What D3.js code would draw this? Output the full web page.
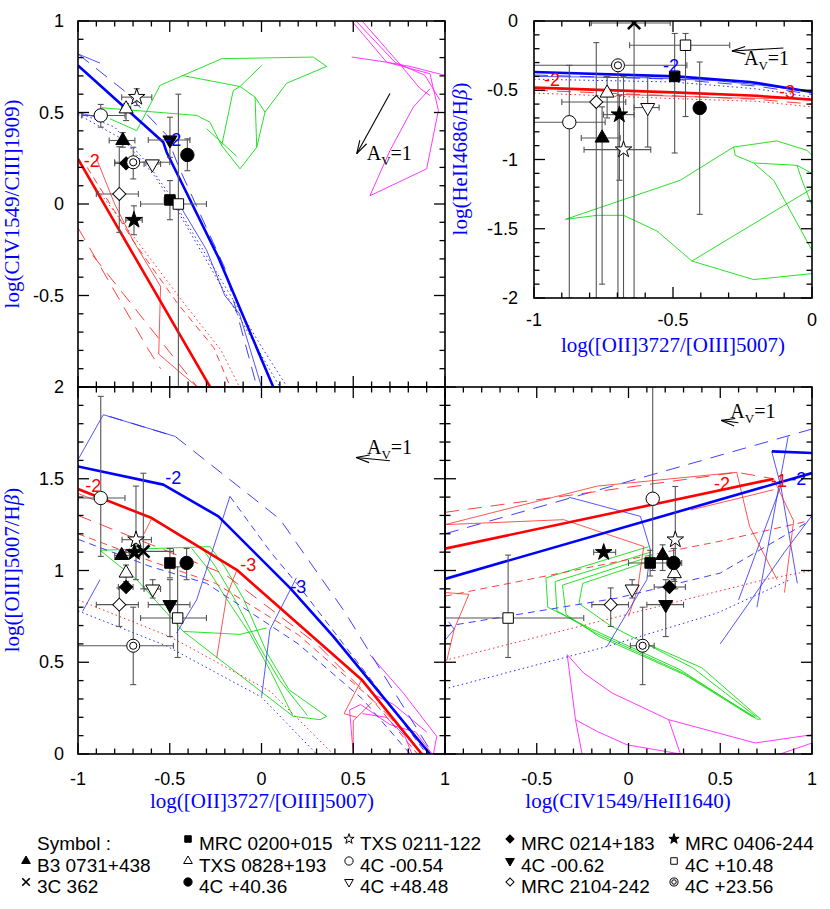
<!DOCTYPE html>
<html>
<head>
<meta charset="utf-8">
<script src="https://cdn.jsdelivr.net/npm/d3@7"></script>
<style>
body { margin: 0; background: #fff; }
</style>
</head>
<body>
<svg id="chart"></svg>
<script>
var width = 830
var height = 909

// sources, in legend order, with their plot symbol
var sources = ["B3 0731+438", "3C 362", "MRC 0200+015", "TXS 0828+193", "4C +40.36",
  "TXS 0211-122", "4C -00.54", "4C +48.48", "MRC 0214+183", "4C -00.62",
  "MRC 2104-242", "MRC 0406-244", "4C +10.48", "4C +23.56"]
var symbols = ["tri", "cross", "sq", "triO", "circ",
  "starO", "circO", "dtriO", "dia", "dtri",
  "diaO", "star", "sqO", "dcirc"]

// points: [source, x, y, xlo, xhi, ylo, yhi]
// top left: log(CIV/CIII]) vs log([OII]/[OIII])
var pointsTL = [
  ["B3 0731+438", -0.756, 0.347, -0.83, -0.69, 0.31, 0.39],
  ["MRC 0200+015", -0.499, 0.022, -0.53, -0.47, -0.086, 0.128],
  ["TXS 0828+193", -0.738, 0.52, -0.762, -0.713, 0.456, 0.548],
  ["4C +40.36", -0.404, 0.268, null, null, 0.182, 0.356],
  ["TXS 0211-122", -0.68, 0.584, -0.762, -0.598, 0.538, 0.63],
  ["4C -00.54", -0.876, 0.484, -0.98, -0.744, 0.42, 0.544],
  ["4C +48.48", -0.595, 0.219, -0.64, -0.55, null, null],
  ["MRC 0214+183", -0.738, 0.222, -0.8, -0.7, null, null],
  ["4C -00.62", -0.499, 0.35, -0.617, -0.39, 0.255, 0.474],
  ["MRC 2104-242", -0.775, 0.055, -0.9, -0.671, -0.155, 0.313],
  ["MRC 0406-244", -0.695, -0.088, -0.74, -0.65, -0.168, -0.01],
  ["4C +10.48", -0.453, 0.0, -0.659, -0.3, -1.0, 0.6],
  ["4C +23.56", -0.699, 0.228, -0.8, -0.5, 0.137, 0.31]
]
// top right: log(HeII4686/Hb) vs log([OII]/[OIII])
var pointsTR = [
  ["B3 0731+438", -0.755, -0.845, -0.83, -0.69, -1.9, -0.62],
  ["3C 362", -0.64, -0.014, -0.794, -0.51, -2.0, 0.0],
  ["MRC 0200+015", -0.494, -0.40, null, null, -0.953, -0.09],
  ["TXS 0828+193", -0.737, -0.52, null, null, -0.7, -0.4],
  ["4C +40.36", -0.404, -0.628, null, null, -1.396, -0.296],
  ["TXS 0211-122", -0.678, -0.929, -0.82, -0.58, -2.0, -0.4],
  ["4C -00.54", -0.873, -0.731, -1.0, -0.744, -2.0, -0.32],
  ["4C +48.48", -0.591, -0.625, -0.64, -0.55, -0.91, -0.404],
  ["MRC 2104-242", -0.776, -0.585, -0.9, -0.67, -2.0, -0.156],
  ["MRC 0406-244", -0.693, -0.676, -0.75, -0.64, -1.15, -0.536],
  ["4C +10.48", -0.455, -0.175, -0.656, -0.296, -0.69, -0.09],
  ["4C +23.56", -0.698, -0.32, -1.0, -0.45, -2.0, -0.32]
]
// bottom left: log([OIII]/Hb) vs log([OII]/[OIII])
var pointsBL = [
  ["B3 0731+438", -0.762, 1.082, -0.8, -0.72, null, null],
  ["3C 362", -0.644, 1.104, -0.72, -0.48, 0.9, 1.53],
  ["MRC 0200+015", -0.499, 1.041, null, null, 0.96, 1.12],
  ["TXS 0828+193", -0.738, 0.986, null, null, 0.94, 1.03],
  ["4C +40.36", -0.408, 1.041, null, null, 0.95, 1.12],
  ["TXS 0211-122", -0.684, 1.168, -0.76, -0.6, 0.95, 1.46],
  ["4C -00.54", -0.876, 1.395, -1.0, -0.744, 1.077, 1.949],
  ["4C +48.48", -0.593, 0.899, -0.64, -0.55, 0.85, 0.95],
  ["MRC 0214+183", -0.738, 0.91, -0.78, -0.7, null, null],
  ["4C -00.62", -0.499, 0.814, -0.617, -0.39, 0.64, 0.95],
  ["MRC 2104-242", -0.775, 0.814, -0.9, -0.671, 0.695, 0.905],
  ["MRC 0406-244", -0.693, 1.099, -0.74, -0.65, null, null],
  ["4C +10.48", -0.457, 0.741, -0.659, -0.3, 0.526, 1.02],
  ["4C +23.56", -0.699, 0.59, -1.0, -0.48, 0.378, 0.8]
]
// bottom right: log([OIII]/Hb) vs log(CIV/HeII1640)
var pointsBR = [
  ["B3 0731+438", 0.186, 1.082, null, null, 1.0, 1.14],
  ["MRC 0200+015", 0.118, 1.041, 0.0, 0.25, 0.97, 1.11],
  ["TXS 0828+193", 0.25, 0.983, null, null, 0.94, 1.03],
  ["4C +40.36", 0.246, 1.041, 0.21, 0.29, 0.95, 1.12],
  ["TXS 0211-122", 0.255, 1.168, null, null, 0.9, 1.458],
  ["4C -00.54", 0.132, 1.391, null, null, 1.0, 2.0],
  ["4C +48.48", 0.02, 0.899, null, null, 0.85, 0.95],
  ["MRC 0214+183", 0.223, 0.91, 0.14, 0.31, null, null],
  ["4C -00.62", 0.203, 0.814, 0.1, 0.3, 0.64, 0.95],
  ["MRC 2104-242", -0.097, 0.814, -0.2, 0.0, 0.695, 0.905],
  ["MRC 0406-244", -0.135, 1.099, -0.19, -0.07, null, null],
  ["4C +10.48", -0.656, 0.741, -1.0, -0.244, 0.526, 1.084],
  ["4C +23.56", 0.077, 0.59, 0.01, 0.14, 0.378, 0.8]
]

// model tracks: [kind, [[x, y], ...]]
var curvesTL = [
  ["green", [[-0.871, 0.526], [-0.353, 0.484], [-0.281, 0.447], [-0.217, 0.319], [-0.117, 0.192], [-0.026, 0.31], [0.019, 0.502], [0.137, 0.66], [0.355, 0.752]]],
  ["green", [[-0.826, 0.466], [-0.68, 0.401], [-0.553, 0.648], [-0.217, 0.794], [0.282, 0.803], [0.355, 0.752]]],
  ["green", [[-0.435, 0.703], [-0.117, 0.642], [-0.035, 0.584], [0.019, 0.502]]],
  ["green", [[-0.117, 0.642], [-0.154, 0.62], [-0.217, 0.319]]],
  ["green", [[0.001, 0.757], [-0.117, 0.642]]],
  ["green", [[-0.035, 0.584], [-0.026, 0.31]]],
  ["green", [[-0.299, 0.411], [-0.135, 0.261]]],
  ["magenta", [[0.492, 1.0], [0.682, 0.775], [0.918, 0.712], [0.964, 0.511]]],
  ["magenta", [[0.515, 1.0], [0.728, 0.774], [0.891, 0.703], [0.973, 0.566]]],
  ["magenta", [[0.548, 1.0], [0.755, 0.763], [0.864, 0.631], [0.918, 0.593]]],
  ["magenta", [[0.492, 0.803], [0.682, 0.775], [0.809, 0.752], [1.0, 0.703]]],
  ["magenta", [[0.964, 0.511], [0.9, 0.192], [0.591, 0.045], [0.7, 0.292], [0.827, 0.529], [0.918, 0.63]]],
  ["blueDash", [[-1, 0.82], [-0.75, 0.62], [-0.52, 0.38], [-0.45, 0.2], [-0.2, -0.35], [-0.025, -1]]],
  ["blueDot", [[-1, 0.49], [-0.75, 0.35], [-0.58, 0.15], [-0.45, -0.05], [0.1, -1]]],
  ["blueDot", [[-1, 0.5], [-0.8, 0.42], [-0.62, 0.22], [-0.5, 0.05], [0.0, -0.78], [0.14, -1]]],
  ["blueThin", [[-1, 0.82], [-0.88, 0.77]]],
  ["blueThin", [[-1, 0.5], [-0.88, 0.47]]],
  ["blueThin", [[-0.48, 0.05], [-0.3, -0.25], [-0.2, -0.5], [-0.12, -0.6], [0.0, -1.0]]],
  ["redDash", [[-1, -0.13], [-0.62, -0.79], [-0.55, -0.9]]],
  ["redDash", [[-0.92, -0.28], [-0.35, -1]]],
  ["redThin", [[-0.9, 0.25], [-0.8, 0.0], [-0.7, -0.2], [-0.55, -0.45], [-0.56, -0.82], [-0.35, -1]]],
  ["redDash2", [[-0.95, 0.2], [-0.7, -0.2], [-0.46, -0.54], [-0.26, -0.785], [-0.17, -1]]],
  ["redDot", [[-0.95, 0.15], [-0.68, -0.2], [-0.44, -0.52], [-0.22, -0.8], [-0.12, -1]]],
  ["blueThick", [[-1, 0.757], [-0.535, 0.337], [-0.517, 0.283], [-0.235, -0.292], [0.064, -1]]],
  ["redThick", [[-1, 0.246], [-0.28, -1]]]
]
var curvesTR = [
  ["green", [[-0.887, -1.432], [-0.474, -1.15], [-0.282, -0.91], [-0.126, -0.866], [-0.018, -0.934], [0, -0.97]]],
  ["green", [[-0.887, -1.432], [-0.773, -1.403], [-0.678, -1.403], [-0.558, -1.516], [-0.432, -1.733], [-0.21, -1.867], [0, -1.824]]],
  ["green", [[-0.432, -1.733], [0, -1.21]]],
  ["green", [[-0.282, -0.91], [-0.276, -0.97], [-0.21, -1.025], [-0.054, -1.042], [0, -1.1]]],
  ["green", [[-0.21, -1.025], [-0.138, -1.15], [0, -1.656]]],
  ["green", [[-0.054, -1.042], [-0.036, -1.15], [0, -1.331]]],
  ["blueDash", [[-1, -0.39], [-0.5, -0.42], [-0.2, -0.47], [0, -0.53]]],
  ["blueDot", [[-1, -0.42], [-0.5, -0.44], [-0.2, -0.49], [0, -0.55]]],
  ["blueThin", [[-1, -0.40], [-0.6, -0.41], [-0.35, -0.43], [-0.15, -0.47], [-0.05, -0.5]]],
  ["redDash", [[-1, -0.5], [-0.5, -0.54], [-0.2, -0.565], [0, -0.6]]],
  ["redDot", [[-1, -0.52], [-0.5, -0.56], [-0.2, -0.58], [0, -0.62]]],
  ["redThin", [[-0.7, -0.53], [-0.3, -0.555], [-0.1, -0.56]]],
  ["blueThick", [[-1, -0.368], [-0.49, -0.4], [-0.222, -0.44], [0, -0.513]]],
  ["redThick", [[-1, -0.481], [-0.5, -0.515], [-0.2, -0.54], [0, -0.568]]]
]
var curvesBL = [
  ["green", [[-0.88, 1.11], [-0.68, 0.95], [-0.426, 0.668], [0.173, 0.205], [0.319, 0.187], [0.355, 0.205]]],
  ["green", [[-0.88, 1.11], [-0.28, 1.13]]],
  ["green", [[-0.28, 1.13], [-0.2, 1.02], [-0.1, 0.85], [0.03, 0.55], [0.15, 0.35], [0.355, 0.205]]],
  ["green", [[-0.33, 1.13], [-0.25, 1.02], [-0.15, 0.85], [-0.02, 0.6], [0.1, 0.4], [0.25, 0.21]]],
  ["green", [[-0.38, 1.12], [-0.3, 1.02], [-0.2, 0.86], [-0.06, 0.65], [0.05, 0.45], [0.17, 0.21]]],
  ["green", [[-0.426, 0.668], [-0.117, 0.652], [0.028, 0.687]]],
  ["magenta", [[0.591, 0.541], [0.773, 0.332], [0.955, 0.096], [0.937, 0.0]]],
  ["magenta", [[0.48, 0.24], [0.54, 0.27], [0.7, 0.16], [0.84, 0.12], [0.93, 0.0]]],
  ["magenta", [[0.48, 0.24], [0.5, 0.0]]],
  ["magenta", [[0.55, 0.22], [0.68, 0.2], [0.78, 0.1], [0.82, 0.0]]],
  ["magenta", [[0.62, 0.32], [0.72, 0.27], [0.9, 0.12]]],
  ["blueThin", [[-1, 1.604], [-0.862, 1.849], [-0.471, 1.731]]],
  ["blueDash", [[-0.83, 1.84], [-0.47, 1.73], [0.1, 1.28], [0.45, 0.78], [0.92, 0.02]]],
  ["blueThin", [[-0.463, 0.659], [-0.353, 0.841], [-0.172, 1.404]]],
  ["blueDash2", [[-0.172, 1.404], [0.05, 1.1], [0.2, 0.92], [0.6, 0.4], [0.9, 0.0]]],
  ["blueThin", [[0.19, 0.96], [0.046, 0.678], [0.001, 0.314]]],
  ["blueThin", [[-0.975, 0.777], [-0.88, 0.95]]],
  ["blueDot", [[-1, 0.78], [-0.52, 0.59], [0.0, 0.31], [0.3, 0.0]]],
  ["redDot", [[-1, 0.84], [-0.5, 0.64], [0.05, 0.34], [0.39, 0.0]]],
  ["blueDash2", [[-1, 1.17], [-0.6, 1.02], [-0.3, 0.93], [0.2, 0.6], [0.55, 0.3], [0.81, 0.0]]],
  ["redDash2", [[-1, 1.2], [-0.6, 1.05], [-0.25, 0.93], [0.2, 0.65], [0.6, 0.3], [0.85, 0.0]]],
  ["redDash", [[-1, 1.3], [-0.55, 1.12], [-0.2, 0.98], [0.3, 0.6], [0.7, 0.2], [0.88, 0.0]]],
  ["redThin", [[-1, 1.42], [-0.9, 1.38]]],
  ["redThin", [[-0.135, 1.0], [-0.19, 0.86], [-0.244, 0.523]]],
  ["redThin", [[-0.6, 1.28], [-0.64, 1.2]]],
  ["redThin", [[0.546, 0.405], [0.45, 0.22], [0.52, 0.2]]],
  ["redThin", [[0.5, 0.0], [0.5, 0.18], [0.6, 0.28]]],
  ["blueThick", [[-1, 1.567], [-0.535, 1.468], [-0.235, 1.295], [0.155, 0.905], [0.391, 0.641], [0.918, 0.0]]],
  ["redThick", [[-1, 1.444], [-0.598, 1.286], [-0.135, 1.004], [0.546, 0.405], [0.873, 0.0]]]
]
var curvesBR = [
  ["green", [[0.11, 1.13], [-0.45, 0.96], [-0.44, 0.8], [-0.2, 0.68], [0.28, 0.46], [0.7, 0.19], [0.72, 0.19], [0.4, 0.47], [0.1, 0.6]]],
  ["green", [[0.12, 1.1], [-0.4, 0.94], [-0.39, 0.78], [-0.18, 0.66], [0.3, 0.44], [0.69, 0.2]]],
  ["green", [[0.13, 1.08], [-0.36, 0.92], [-0.34, 0.76], [-0.16, 0.64], [0.31, 0.43], [0.68, 0.2]]],
  ["green", [[0.14, 1.06], [-0.25, 0.93], [-0.27, 0.82], [-0.1, 0.7], [0.35, 0.47], [0.7, 0.2]]],
  ["magenta", [[-0.334, 0.541], [-0.244, 0.441], [-0.089, 0.332], [0.219, 0.187], [0.691, 0.06], [1.0, 0.105]]],
  ["magenta", [[-0.334, 0.541], [-0.289, 0.187], [-0.253, 0.0]]],
  ["magenta", [[-0.289, 0.187], [-0.171, 0.123], [-0.008, 0.05], [0.283, 0.0]]],
  ["magenta", [[0.219, 0.187], [0.283, 0.0]]],
  ["magenta", [[0.827, 0.0], [1.0, 0.06]]],
  ["blueDash", [[-1, 1.2], [1, 1.771]]],
  ["redDash", [[-1, 1.317], [0.591, 1.535], [0.79, 1.5]]],
  ["redThin", [[-1, 1.25], [-0.17, 1.46], [0.59, 1.535]]],
  ["redThin", [[-1, 1.25], [-0.353, 1.277], [0.083, 1.131], [0.05, 0.9], [0.0, 0.75]]],
  ["blueThin", [[-0.326, 1.4], [0.065, 1.295], [0.12, 1.11], [0.1, 0.95], [-0.117, 0.586]]],
  ["redDash2", [[-1, 0.86], [-0.2, 1.02], [0.5, 1.16], [0.98, 1.27]]],
  ["blueDash2", [[-1, 0.695], [-0.06, 0.85], [0.5, 0.986], [0.97, 1.26]]],
  ["redDot", [[-1, 0.51], [0.74, 0.95], [1.0, 1.0]]],
  ["blueDot", [[-0.98, 0.36], [-0.117, 0.586], [0.483, 0.768], [0.88, 0.95]]],
  ["blueThin", [[0.78, 1.65], [0.83, 1.46], [0.6, 0.84]]],
  ["blueThin", [[0.83, 1.46], [0.92, 0.93]]],
  ["blueThin", [[0.87, 1.73], [0.82, 1.46], [0.7, 0.8]]],
  ["blueThin", [[0.5, 0.6], [0.85, 1.1], [1.0, 1.3]]],
  ["redThin", [[0.59, 1.535], [0.66, 1.24], [0.81, 0.95]]],
  ["redThin", [[0.79, 1.5], [0.9, 1.27], [0.85, 0.88]]],
  ["redThin", [[0.34, 1.33], [0.79, 1.44]]],
  ["redThin", [[-1, 0.88], [-0.87, 0.87], [-0.95, 0.68], [-0.99, 0.51]]],
  ["blueThin", [[-1, 0.62], [-0.95, 0.68], [-0.98, 0.72]]],
  ["blueThick", [[-1, 0.954], [1, 1.531]]],
  ["blueThick", [[0.782, 1.649], [1, 1.64]]],
  ["redThick", [[-1, 1.119], [0.79, 1.499]]]
]

// track labels: [panel, colour, text, x, y]
var trackLabels = [
  ["tl", "blue", "-2", -0.481, 0.347], ["tl", "red", "-2", -0.925, 0.237],
  ["tr", "blue", "-2", -0.507, -0.325], ["tr", "red", "-2", -0.935, -0.428], ["tr", "red", "-3", -0.09, -0.513],
  ["bl", "blue", "-2", -0.481, 1.504], ["bl", "red", "-2", -0.917, 1.462],
  ["bl", "red", "-3", -0.072, 1.032], ["bl", "blue", "-3", 0.201, 0.91],
  ["br", "red", "-2", 0.51, 1.473], ["br", "blue", "-2", 0.925, 1.5], ["br", "red", "-1", 0.82, 1.49]
]

// reddening vectors A_V = 1: [panel, x0, y0, x1, y1]
var avArrows = [
  ["tl", 0.700, 0.604, 0.519, 0.275],
  ["tr", -0.103, -0.195, -0.288, -0.217],
  ["bl", 0.700, 1.598, 0.515, 1.616],
  ["br", 0.599, 1.805, 0.506, 1.818]
]

// tick labels per panel
var xTickLabels = { tl: [], tr: [-1, -0.5, 0], bl: [-1, -0.5, 0, 0.5, 1], br: [-0.5, 0, 0.5, 1] }
var yTickLabels = { tl: [1, 0.5, 0, -0.5], tr: [0, -0.5, -1, -1.5, -2], bl: [2, 1.5, 1, 0.5, 0], br: [] }

var points = { tl: pointsTL, tr: pointsTR, bl: pointsBL, br: pointsBR }
var curves = { tl: curvesTL, tr: curvesTR, bl: curvesBL, br: curvesBR }

var panels = [
  { id: "tl", left: 78, top: 21, w: 367, h: 366, xDom: [-1, 1], yDom: [-1, 1] },
  { id: "tr", left: 534, top: 21, w: 278, h: 277, xDom: [-1, 0], yDom: [-2, 0] },
  { id: "bl", left: 78, top: 387, w: 367, h: 367, xDom: [-1, 1], yDom: [0, 2] },
  { id: "br", left: 445, top: 387, w: 367, h: 367, xDom: [-1, 1], yDom: [0, 2] }
]

var lineStyles = {
  blueThick: { c: "#0000ff", w: 2.6, d: null },
  redThick: { c: "#ff0000", w: 2.6, d: null },
  blueThin: { c: "#2a2aff", w: 0.8, d: null },
  redThin: { c: "#ff2a2a", w: 0.8, d: null },
  blueDash: { c: "#2a2aff", w: 0.9, d: "14,9" },
  redDash: { c: "#ff2a2a", w: 0.9, d: "14,9" },
  blueDash2: { c: "#2a2aff", w: 0.9, d: "7,5" },
  redDash2: { c: "#ff2a2a", w: 0.9, d: "7,5" },
  blueDot: { c: "#2a2aff", w: 1, d: "1.5,3" },
  redDot: { c: "#ff2a2a", w: 1, d: "1.5,3" },
  green: { c: "#11dd11", w: 0.9, d: null },
  magenta: { c: "#ff22ff", w: 0.9, d: null }
}
var labelColor = { blue: "#0000ff", red: "#ff0000" }
var avLabelPos = { tl: [10, 0], tr: [12, 8], bl: [11, -9], br: [9, -8] }

var sansFont = "'Liberation Sans', Arial, sans-serif"
var serifFont = "'Liberation Serif', 'DejaVu Serif', serif"

var svg = d3.select("#chart")
  .attr("width", width)
  .attr("height", height)
  .style("font-family", sansFont)

svg.append("rect").attr("width", width).attr("height", height).attr("fill", "#fff")

function addMarker(g, type, cx, cy, k) {
  if (type === "dcirc") {
    g.append("circle").attr("cx", cx).attr("cy", cy).attr("r", 6.5 * k)
      .attr("fill", "#fff").attr("stroke", "#000").attr("stroke-width", 1)
    g.append("circle").attr("cx", cx).attr("cy", cy).attr("r", 3.6 * k)
      .attr("fill", "none").attr("stroke", "#000").attr("stroke-width", 1)
    return
  }
  var open = type.slice(-1) === "O"
  var base = open ? type.slice(0, -1) : type
  var shapes = { tri: d3.symbolTriangle, dtri: d3.symbolTriangle, sq: d3.symbolSquare,
    dia: d3.symbolSquare, circ: d3.symbolCircle, star: d3.symbolStar, cross: d3.symbolTimes }
  var areas = { tri: 85, dtri: 85, sq: 110, dia: 85, circ: 140, star: 85, cross: 100 }
  var rot = { dtri: 180, dia: 45 }
  g.append("path")
    .attr("d", d3.symbol(shapes[base], areas[base] * k * k)())
    .attr("transform", "translate(" + cx + "," + cy + ") rotate(" + (rot[base] || 0) + ")")
    .attr("fill", base === "cross" ? "none" : (open ? "#fff" : "#000"))
    .attr("stroke", "#000")
    .attr("stroke-width", base === "cross" ? 2.6 * k : 1)
}

panels.forEach(function (p) {
  p.x = d3.scaleLinear().domain(p.xDom).range([p.left, p.left + p.w])
  p.y = d3.scaleLinear().domain(p.yDom).range([p.top + p.h, p.top])

  svg.append("clipPath").attr("id", "clip-" + p.id)
    .append("rect").attr("x", p.left).attr("y", p.top).attr("width", p.w).attr("height", p.h)

  var g = svg.append("g").attr("clip-path", "url(#clip-" + p.id + ")")

  var line = d3.line().x(function (d) { return p.x(d[0]) }).y(function (d) { return p.y(d[1]) })

  g.selectAll("path.track")
    .data(curves[p.id])
    .join("path")
    .attr("class", "track")
    .attr("d", function (d) { return line(d[1]) })
    .attr("fill", "none")
    .attr("stroke", function (d) { return lineStyles[d[0]].c })
    .attr("stroke-width", function (d) { return lineStyles[d[0]].w })
    .attr("stroke-dasharray", function (d) { return lineStyles[d[0]].d })
    .attr("stroke-linejoin", "round")

  // error bars
  var eb = g.append("g").attr("stroke", "#555").attr("stroke-width", 1.1)
  points[p.id].forEach(function (d) {
    var px = p.x(d[1]), py = p.y(d[2])
    if (d[3] !== null) {
      eb.append("line").attr("x1", p.x(d[3])).attr("x2", p.x(d[4])).attr("y1", py).attr("y2", py)
      eb.append("line").attr("x1", p.x(d[3])).attr("x2", p.x(d[3])).attr("y1", py - 3).attr("y2", py + 3)
      eb.append("line").attr("x1", p.x(d[4])).attr("x2", p.x(d[4])).attr("y1", py - 3).attr("y2", py + 3)
    }
    if (d[5] !== null) {
      eb.append("line").attr("x1", px).attr("x2", px).attr("y1", p.y(d[5])).attr("y2", p.y(d[6]))
      eb.append("line").attr("x1", px - 3).attr("x2", px + 3).attr("y1", p.y(d[5])).attr("y2", p.y(d[5]))
      eb.append("line").attr("x1", px - 3).attr("x2", px + 3).attr("y1", p.y(d[6])).attr("y2", p.y(d[6]))
    }
  })

  var mk = g.append("g")
  points[p.id].forEach(function (d) {
    addMarker(mk, symbols[sources.indexOf(d[0])], p.x(d[1]), p.y(d[2]), 1)
  })

  // track labels
  g.selectAll("text.tlab")
    .data(trackLabels.filter(function (d) { return d[0] === p.id }))
    .join("text")
    .attr("class", "tlab")
    .attr("x", function (d) { return p.x(d[3]) })
    .attr("y", function (d) { return p.y(d[4]) })
    .attr("text-anchor", "middle")
    .attr("dominant-baseline", "central")
    .attr("font-size", 18)
    .attr("fill", function (d) { return labelColor[d[1]] })
    .text(function (d) { return d[2] })

  // A_V = 1 arrow
  avArrows.filter(function (d) { return d[0] === p.id }).forEach(function (d) {
    var x0 = p.x(d[1]), y0 = p.y(d[2]), x1 = p.x(d[3]), y1 = p.y(d[4])
    var ang = Math.atan2(y0 - y1, x0 - x1)
    var ag = svg.append("g").attr("stroke", "#000").attr("stroke-width", 1.1)
    ag.append("line").attr("x1", x0).attr("y1", y0).attr("x2", x1).attr("y2", y1)
    ;[-0.28, 0.28].forEach(function (da) {
      ag.append("line").attr("x1", x1).attr("y1", y1)
        .attr("x2", x1 + 14 * Math.cos(ang + da)).attr("y2", y1 + 14 * Math.sin(ang + da))
    })
    var off = avLabelPos[p.id]
    var t = svg.append("text").attr("x", x1 + off[0]).attr("y", y1 + off[1] + 6)
      .attr("font-family", serifFont).attr("font-size", 20)
    t.append("tspan").text("A")
    t.append("tspan").attr("font-size", 13).attr("dy", 5).text("V")
    t.append("tspan").attr("dy", -5).text("=1")
  })

  // frame
  svg.append("rect").attr("x", p.left).attr("y", p.top).attr("width", p.w).attr("height", p.h)
    .attr("fill", "none").attr("stroke", "#000").attr("stroke-width", 1.6)

  // ticks on all four sides, pointing in
  var tk = svg.append("g").attr("stroke", "#000").attr("stroke-width", 1.3)
  function isMajor(v) { return Math.abs(v * 2 - Math.round(v * 2)) < 1e-6 }
  var xt = d3.range(Math.round(p.xDom[0] * 10), Math.round(p.xDom[1] * 10) + 1).map(function (i) { return i / 10 })
  var yt = d3.range(Math.round(p.yDom[0] * 10), Math.round(p.yDom[1] * 10) + 1).map(function (i) { return i / 10 })
  xt.forEach(function (v) {
    var L = isMajor(v) ? 11 : 5.5, xx = p.x(v)
    tk.append("line").attr("x1", xx).attr("x2", xx).attr("y1", p.top + p.h).attr("y2", p.top + p.h - L)
    tk.append("line").attr("x1", xx).attr("x2", xx).attr("y1", p.top).attr("y2", p.top + L)
  })
  yt.forEach(function (v) {
    var L = isMajor(v) ? 11 : 5.5, yy = p.y(v)
    tk.append("line").attr("x1", p.left).attr("x2", p.left + L).attr("y1", yy).attr("y2", yy)
    tk.append("line").attr("x1", p.left + p.w).attr("x2", p.left + p.w - L).attr("y1", yy).attr("y2", yy)
  })

  svg.append("g").selectAll("text")
    .data(xTickLabels[p.id])
    .join("text")
    .attr("x", function (d) { return p.x(d) })
    .attr("y", p.top + p.h + (p.id === "tr" ? 28 : 31))
    .attr("text-anchor", "middle")
    .attr("font-size", 18)
    .text(function (d) { return String(d) })

  svg.append("g").selectAll("text")
    .data(yTickLabels[p.id])
    .join("text")
    .attr("x", p.left - (p.id === "tr" ? 16 : 14))
    .attr("y", function (d) { return p.y(d) })
    .attr("text-anchor", "end")
    .attr("dominant-baseline", "central")
    .attr("font-size", 18)
    .text(function (d) { return String(d) })
})

// axis titles
function title(x, y, rot, parts) {
  var t = svg.append("text")
    .attr("transform", "translate(" + x + "," + y + ") rotate(" + rot + ")")
    .attr("text-anchor", "middle")
    .attr("font-family", serifFont)
    .attr("font-size", 21)
    .attr("fill", "#0000ff")
  parts.forEach(function (s) {
    var ts = t.append("tspan").text(s[0])
    if (s[1]) ts.attr("font-style", "italic")
  })
}
title(19, 204, -90, [["log(CIV1549/CIII]1909)"]])
title(467, 159, -90, [["log(HeII4686/H"], ["\u03b2", 1], [")"]])
title(673, 352, 0, [["log([OII]3727/[OIII]5007)"]])
title(19, 570, -90, [["log([OIII]5007/H"], ["\u03b2", 1], [")"]])
title(262, 808, 0, [["log([OII]3727/[OIII]5007)"]])
title(628, 808, 0, [["log(CIV1549/HeII1640)"]])

// legend
var legendColX = [26, 188, 349, 510, 674]
var legendRowY = [843, 865, 886]
var lg = svg.append("g").attr("font-size", 19)
lg.append("text").attr("x", 37).attr("y", legendRowY[0]).attr("dominant-baseline", "central").text("Symbol :")
sources.forEach(function (name, i) {
  var slot = i + 1
  var col = Math.floor(slot / 3), row = slot % 3
  var cx = legendColX[col], cy = legendRowY[row]
  addMarker(lg, symbols[i], cx, cy - 4, 0.62)
  lg.append("text").attr("x", cx + 11).attr("y", cy).attr("dominant-baseline", "central").text(name)
})
</script>
</body>
</html>
